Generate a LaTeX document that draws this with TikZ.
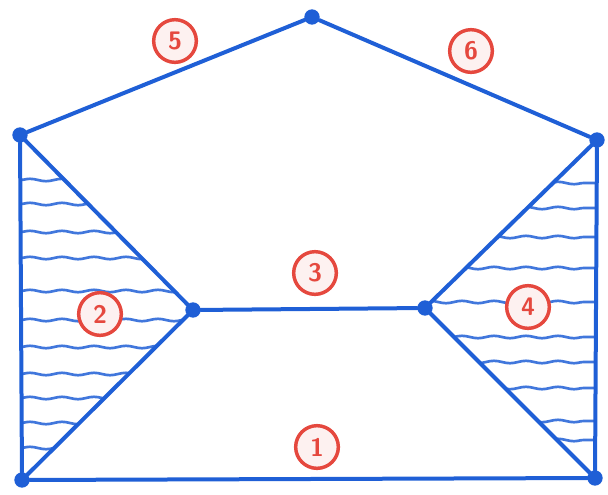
\documentclass[tikz,border=0pt]{standalone}
\usepackage{tikz}
\usetikzlibrary{decorations.pathmorphing}
\definecolor{eblue}{HTML}{1F5FD6}
\definecolor{ered}{HTML}{E5483E}
\definecolor{eredsoft}{HTML}{FDF1F0}
\tikzset{
  edge/.style={draw=eblue, line width=3pt, line cap=round},
  vtx/.style={circle, fill=eblue, minimum size=11.5pt, inner sep=0pt},
  hatch/.style={draw=eblue!85, line width=2pt, line cap=round,
    decorate, decoration={snake, amplitude=0.9pt, segment length=24pt}},
  num/.style={circle, draw=ered, line width=2.6pt, fill=eredsoft, text=ered,
    minimum size=32pt, inner sep=0pt, font=\fontsize{19}{19}\selectfont\sffamily\bfseries}
}
\begin{document}
\begin{tikzpicture}[x=0.75pt, y=-0.75pt]
  \useasboundingbox (0,0) rectangle (608,494);
  % corners of the envelope
  \node[vtx] (nT)  at (312,17) {};
  \node[vtx] (nLT) at (20,135) {};
  \node[vtx] (nRT) at (597,140) {};
  \node[vtx] (nIL) at (193,310) {};
  \node[vtx] (nIR) at (425,308) {};
  \node[vtx] (nLB) at (22,480) {};
  \node[vtx] (nRB) at (595,478) {};
  % hatching in the side flaps
  \begin{scope}
    \clip (nLT.center) -- (nIL.center) -- (nLB.center) -- cycle;
    \foreach \y in {180,204,232,258,291,320,347,374,398,423,448}
      \draw[hatch] (20,\y) -- (200,\y);
  \end{scope}
  \begin{scope}
    \clip (nRT.center) -- (nIR.center) -- (nRB.center) -- cycle;
    \foreach \y in {183,208,237,268,302,337,362,388,421,440}
      \draw[hatch] (420,\y) -- (597,\y);
  \end{scope}
  % outline
  \draw[edge] (nLT) -- (nT) -- (nRT);
  \draw[edge] (nLT) -- (nLB) -- (nRB) -- (nRT);
  \draw[edge] (nLT) -- (nIL) -- (nLB);
  \draw[edge] (nRT) -- (nIR) -- (nRB);
  \draw[edge] (nIL) -- (nIR);
  % numbers
  \node[num] (n1) at (317,447) {1};
  \node[num] (n2) at (100,314) {2};
  \node[num] (n3) at (315,273) {3};
  \node[num] (n4) at (528,307) {4};
  \node[num] (n5) at (175,41) {5};
  \node[num] (n6) at (471,51) {6};
\end{tikzpicture}
\end{document}
